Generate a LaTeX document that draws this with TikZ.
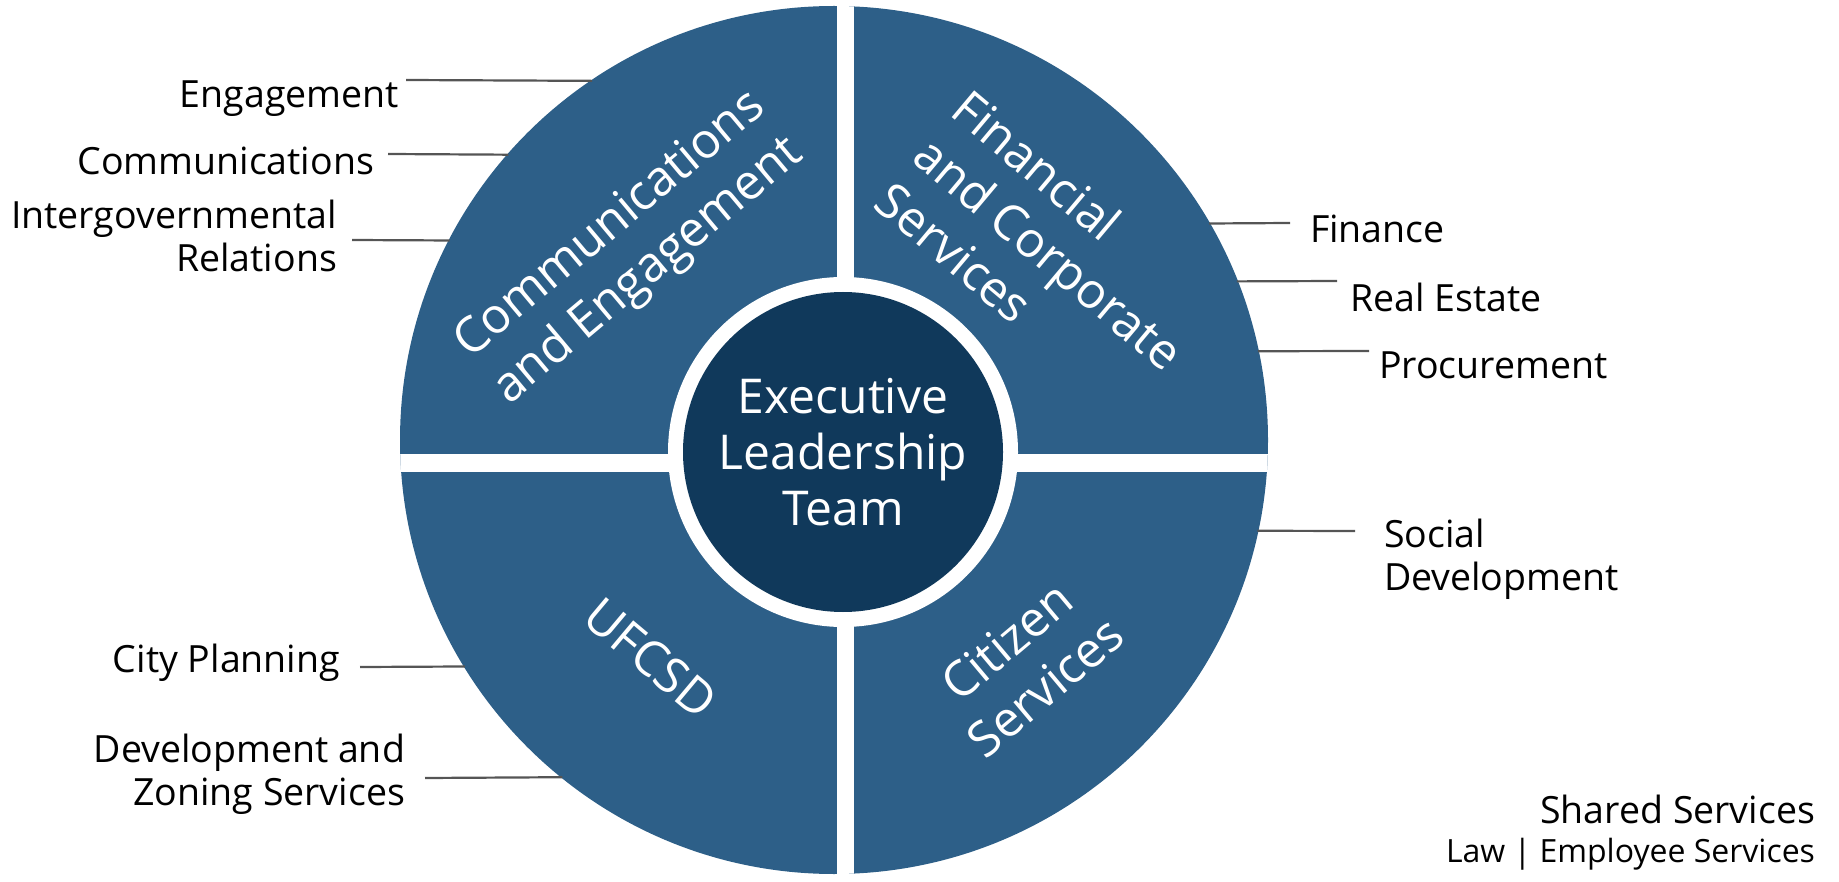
\documentclass[tikz,border=0pt]{standalone}
\usepackage{fontspec}
\setmainfont{Open Sans}
\definecolor{ringblue}{HTML}{2D5F88}
\definecolor{coreblue}{HTML}{10395B}
\definecolor{linegray}{HTML}{555555}
\begin{document}
\begin{tikzpicture}[x=1pt,y=-1pt,
  lbl/.style={inner sep=0pt, outer sep=0pt, font=\fontsize{37.5}{43}\selectfont, text=black},
  quad/.style={inner sep=0pt, text=white, font=\fontsize{49}{60}\selectfont},
  leader/.style={draw=linegray, line width=2.2pt}]
\useasboundingbox (0,0) rectangle (1839,882);
% outer ring
\node[circle, fill=ringblue, minimum size=868pt, inner sep=0pt, outer sep=0pt] (ring) at (834,440) {};
\begin{scope}
  \clip (834,440) circle[radius=434pt];
  \fill[white] (837,0) rectangle (854,882);
  \fill[white] (0,454) rectangle (1839,472);
\end{scope}
% centre
\node[circle, fill=white, minimum size=350pt, inner sep=0pt] (halo) at (843,452) {};
\node[circle, fill=coreblue, minimum size=320pt, inner sep=0pt, text=white,
      font=\fontsize{48}{56}\selectfont, align=center] (core) at (843,452) {Executive\\Leadership\\Team};
% quadrant titles
\node[quad, rotate=40, align=center] (ce) at (630,249) {Communications\\and Engagement};
\node[quad, rotate=-40, align=left] (fcs) at (1049,253) {Financial\\and Corporate\\Services};
\node[quad, rotate=-40] (uf) at (651,658) {UFCSD};
\node[quad, rotate=40, align=center] (cs) at (1026,664) {Citizen\\Services};
% left labels
\coordinate (engA) at (406,80);
\coordinate (comA) at (388,154);
\coordinate (igrA) at (352,240);
\coordinate (citA) at (360,667);
\coordinate (dzsA) at (425,778);
\draw[leader] (engA) -- ([shift={(123.96:433pt)}]ring.center);
\draw[leader] (comA) -- ([shift={(138.78:433pt)}]ring.center);
\draw[leader] (igrA) -- ([shift={(152.56:433pt)}]ring.center);
\draw[leader] (citA) -- ([shift={(211.54:433pt)}]ring.center);
\draw[leader] (dzsA) -- ([shift={(231.15:433pt)}]ring.center);
\node[lbl, anchor=base east] (eng) at (399,108) {Engagement};
\node[lbl, anchor=base east] (com) at (374,175) {Communications};
\node[lbl, anchor=north east, align=right] (igr) at (337,200) {Intergovernmental\\Relations};
\node[lbl, anchor=base east] (cit) at (340,672) {City Planning};
\node[lbl, anchor=north east, align=right] (dzs) at (405,734) {Development and\\Zoning Services};
% right labels
\coordinate (finA) at (1290,223);
\coordinate (reaA) at (1337,281);
\coordinate (proA) at (1369,351);
\coordinate (socA) at (1355,531);
\draw[leader] ([shift={(30:433pt)}]ring.center) -- (finA);
\draw[leader] ([shift={(21.49:433pt)}]ring.center) -- (reaA);
\draw[leader] ([shift={(11.83:433pt)}]ring.center) -- (proA);
\draw[leader] ([shift={(-12.10:433pt)}]ring.center) -- (socA);
\node[lbl, anchor=base west] (fin) at (1310,243) {Finance};
\node[lbl, anchor=base west] (rea) at (1350,312) {Real Estate};
\node[lbl, anchor=base west] (pro) at (1379,379) {Procurement};
\node[lbl, anchor=north west, align=left] (soc) at (1384,519) {Social\\Development};
% shared services
\node[lbl, anchor=base east] (shs) at (1815,823) {Shared Services};
\node[lbl, anchor=base east, font=\fontsize{32}{38}\selectfont] (law) at (1815,862) {Law | Employee Services};
\end{tikzpicture}
\end{document}
